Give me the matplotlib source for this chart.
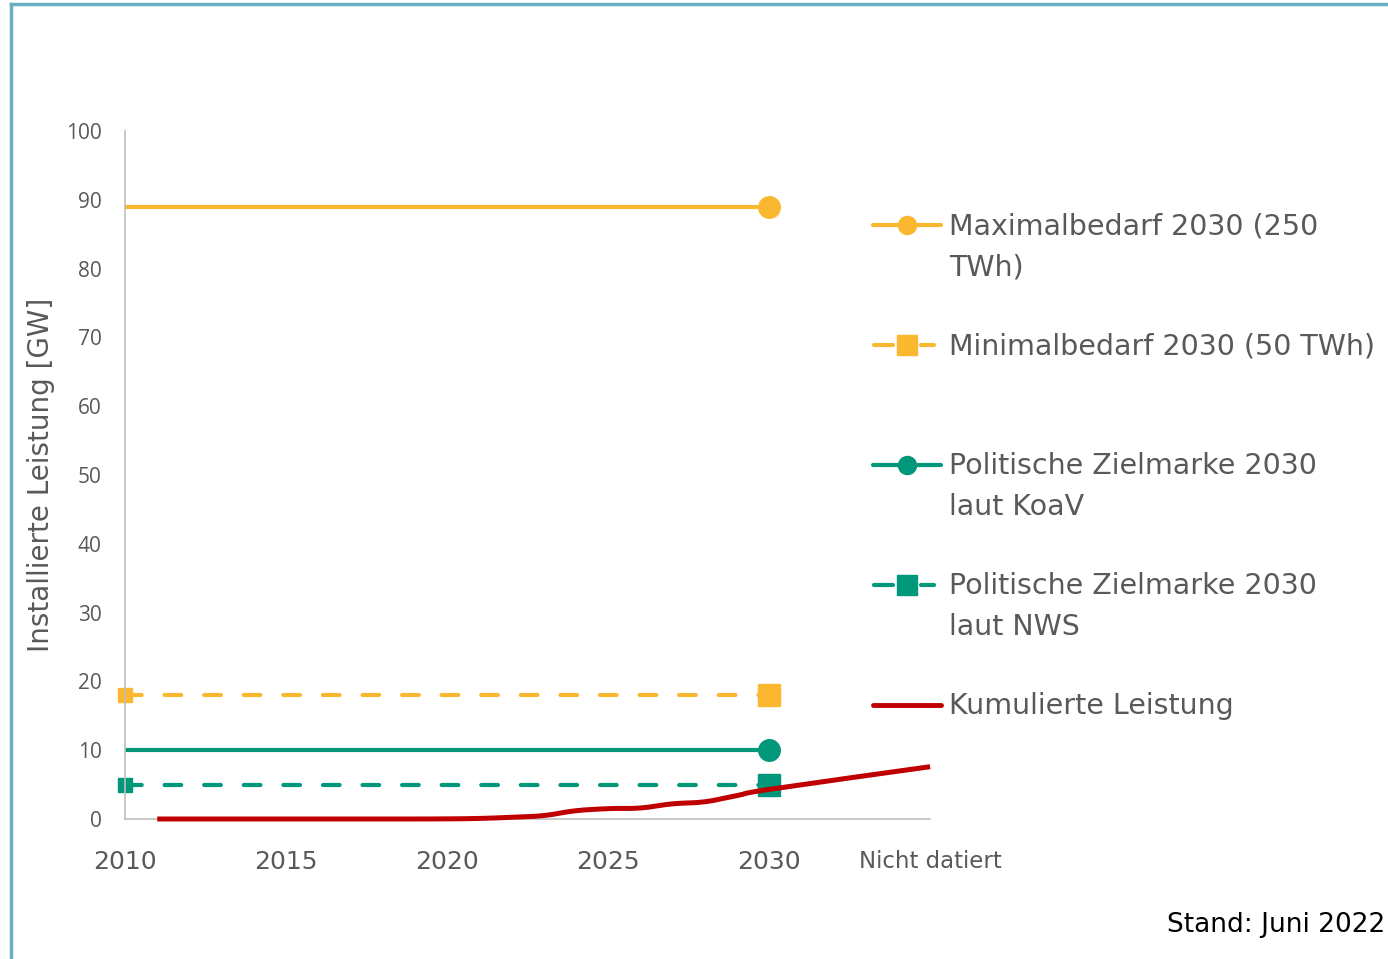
import matplotlib.pyplot as plt
from matplotlib.lines import Line2D
from matplotlib.path import Path
from matplotlib.patches import PathPatch

plt.rcParams['font.family'] = ['DejaVu Sans']

# values
target_years = [2010, 2030]
max_demand = [89, 89]      # Maximalbedarf 2030 (250 TWh)
min_demand = [18, 18]      # Minimalbedarf 2030 (50 TWh)
goal_koav = [10, 10]       # Politische Zielmarke 2030 laut KoaV
goal_nws = [5, 5]          # Politische Zielmarke 2030 laut NWS

cum_years = [2011, 2012, 2013, 2014, 2015, 2016, 2017, 2018, 2019, 2020,
             2021, 2022, 2023, 2024, 2025, 2026, 2027, 2028, 2029, 2030, 2035]
cum_power = [0, 0, 0, 0, 0, 0, 0, 0, 0, 0.02,
             0.08, 0.25, 0.5, 1.2, 1.5, 1.6, 2.2, 2.5, 3.4, 4.3, 7.6]

xticks = [2010, 2015, 2020, 2025, 2030, 2035]
xtick_labels = ['2010', '2015', '2020', '2025', '2030', 'Nicht datiert']
yticks = list(range(0, 101, 10))

labels = ['Maximalbedarf 2030 (250\nTWh)', 'Minimalbedarf 2030 (50 TWh)',
          'Politische Zielmarke 2030\nlaut KoaV', 'Politische Zielmarke 2030\nlaut NWS',
          'Kumulierte Leistung']

YELLOW = '#fbb730'
GREEN = '#00977a'
RED = '#c00000'
GREY = '#595959'

fig = plt.figure(figsize=(13.88, 9.59), dpi=100)
ax = fig.add_axes([0.0901, 0.146, 0.580, 0.7174])

dash = (4, 5.5)
ax.plot(target_years, max_demand, color=YELLOW, lw=3, solid_capstyle='butt')
ax.plot(target_years[1], max_demand[1], 'o', color=YELLOW, ms=15.5)
ax.plot(target_years, min_demand, color=YELLOW, lw=3, dashes=dash, dash_capstyle='round')
ax.plot(target_years[0], min_demand[0], 's', color=YELLOW, ms=10.5, clip_on=False)
ax.plot(target_years[1], min_demand[1], 's', color=YELLOW, ms=15.5)
ax.plot(target_years, goal_koav, color=GREEN, lw=3, solid_capstyle='butt')
ax.plot(target_years[1], goal_koav[1], 'o', color=GREEN, ms=15.5)
ax.plot(target_years, goal_nws, color=GREEN, lw=3, dashes=dash, dash_capstyle='round')
ax.plot(target_years[0], goal_nws[0], 's', color=GREEN, ms=10.5, clip_on=False)
ax.plot(target_years[1], goal_nws[1], 's', color=GREEN, ms=15.5)

# smoothed line (Catmull-Rom as Bezier, like the spreadsheet smoothing)
pts = list(zip(cum_years, cum_power))
verts = [pts[0]]
codes = [Path.MOVETO]
n = len(pts)
for i in range(n - 1):
    p0 = pts[max(i - 1, 0)]
    p1 = pts[i]
    p2 = pts[i + 1]
    p3 = pts[min(i + 2, n - 1)]
    c1 = (p1[0] + (p2[0] - p0[0]) / 6, p1[1] + (p2[1] - p0[1]) / 6)
    c2 = (p2[0] - (p3[0] - p1[0]) / 6, p2[1] - (p3[1] - p1[1]) / 6)
    verts += [c1, c2, p2]
    codes += [Path.CURVE4] * 3
ax.add_patch(PathPatch(Path(verts, codes), fill=False, edgecolor=RED, lw=3.6,
                       capstyle='butt', clip_on=False, zorder=3))

ax.set_xlim(2010, 2035)
ax.set_ylim(0, 100)
ax.set_xticks(xticks)
ax.set_xticklabels(xtick_labels)
ax.set_yticks(yticks)
for s in ['top', 'right']:
    ax.spines[s].set_visible(False)
for s in ['left', 'bottom']:
    ax.spines[s].set_color('#bfbfbf')
    ax.spines[s].set_linewidth(1.2)
ax.tick_params(axis='y', length=0, pad=17, labelsize=14, labelcolor=GREY)
ax.tick_params(axis='x', length=0, pad=22, labelsize=18, labelcolor=GREY)
for t in ax.get_yticklabels():
    t.set_family('Open Sans')
    t.set_fontsize(15)
ax.get_xticklabels()[-1].set_fontsize(16.5)
ax.get_xticklabels()[-1].set_x(2034.8)
ax.set_ylabel('Installierte Leistung [GW]', fontsize=20, color=GREY, labelpad=8)

# legend drawn by hand so the handle sits on the first text line
leg_y = [225, 345, 465, 585, 705]
styles = [(YELLOW, 'o', False), (YELLOW, 's', True), (GREEN, 'o', False),
          (GREEN, 's', True), (RED, None, False)]
H = 959.0
W = 1388.0
for y, lab, (c, m, dashed) in zip(leg_y, labels, styles):
    fy = 1 - y / H
    kw = dict(color=c, lw=3.5 if m is None else 3, transform=fig.transFigure,
              solid_capstyle='round')
    if dashed:
        fig.add_artist(Line2D([874 / W, 893 / W], [fy, fy], **kw))
        fig.add_artist(Line2D([921 / W, 934 / W], [fy, fy], **kw))
    else:
        fig.add_artist(Line2D([873 / W, 941 / W], [fy, fy], **kw))
    if m is not None:
        fig.add_artist(Line2D([907 / W], [fy], marker=m, color=c,
                              ms=13 if m == 'o' else 14, transform=fig.transFigure))
    fig.text(949 / W, 1 - (y - 13) / H, lab, fontsize=20.5, color=GREY, va='top',
             ha='left', linespacing=1.6, transform=fig.transFigure)

fig.text(1385 / W, 1 - 925 / H, 'Stand: Juni 2022', fontsize=19, color='black',
         ha='right', va='center')

# frame
fig.add_artist(Line2D([11 / W, 11 / W], [0, 1 - 4 / H], color='#6aaec3', lw=2.5,
                      transform=fig.transFigure, solid_capstyle='projecting'))
fig.add_artist(Line2D([11 / W, 1], [1 - 4 / H, 1 - 4 / H], color='#6aaec3', lw=2.5,
                      transform=fig.transFigure, solid_capstyle='projecting'))

fig.savefig('out.png', dpi=100)
